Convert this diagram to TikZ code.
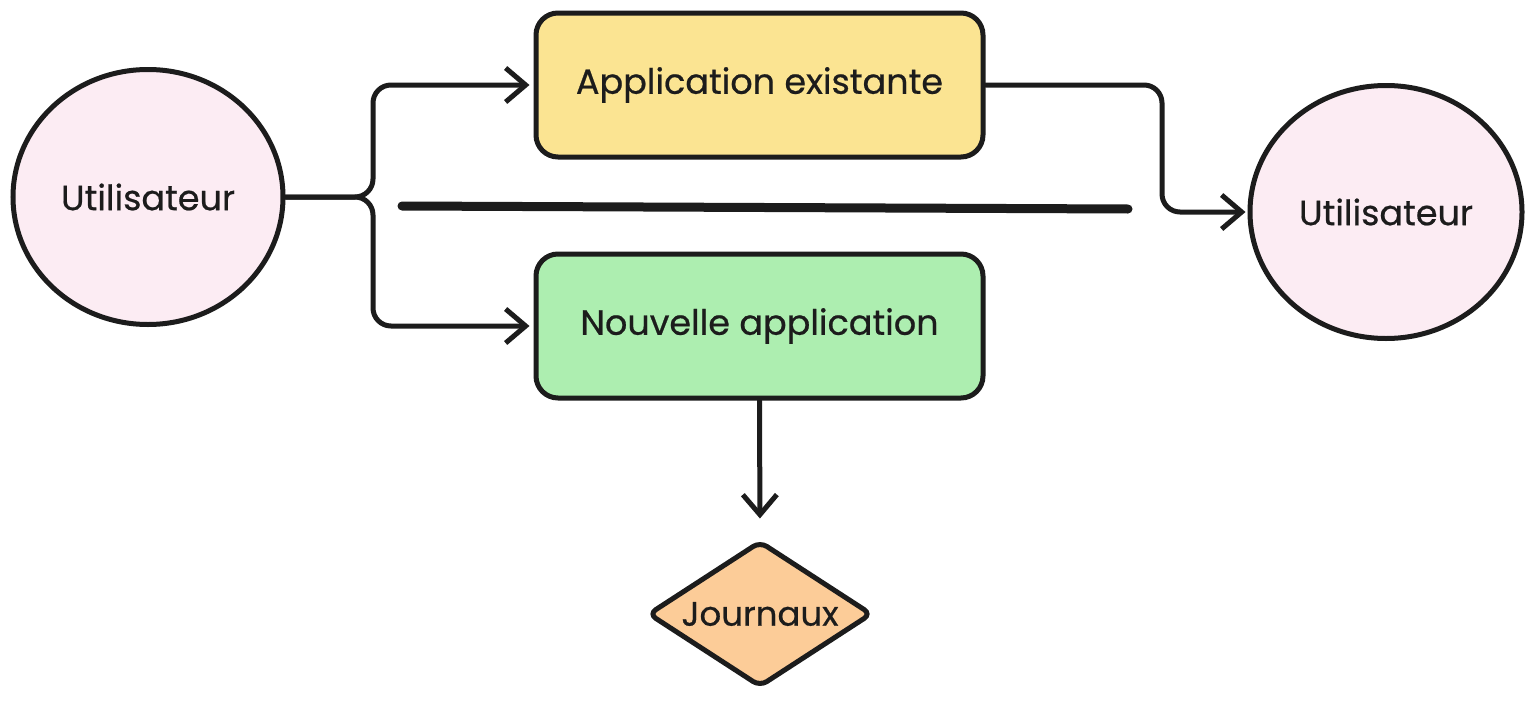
\documentclass[tikz,border=0pt]{standalone}
\usepackage{fontspec}
\setmainfont{Poppins}[FakeBold=0.6]
\usetikzlibrary{shapes.geometric,arrows.meta}
\definecolor{pinkfill}{RGB}{252,236,243}
\definecolor{yellowfill}{RGB}{251,228,146}
\definecolor{greenfill}{RGB}{173,238,176}
\definecolor{orangefill}{RGB}{252,204,152}
\definecolor{ink}{RGB}{28,28,28}
\tikzset{
  base/.style={draw=ink, line width=5pt, font=\fontsize{35}{40}\selectfont, text=ink},
  person/.style={base, ellipse, inner sep=0pt, fill=pinkfill},
  appbox/.style={base, rectangle, rounded corners=22pt, inner sep=0pt, minimum width=447pt, minimum height=144pt},
  logs/.style={base, diamond, inner sep=0pt, minimum width=224pt, minimum height=146pt, fill=orangefill, rounded corners=8pt,
    label={[font=\fontsize{34}{38}\selectfont, text=ink]center:Journaux}},
  conn/.style={draw=ink, line width=5pt, rounded corners=18pt, line cap=round, line join=round},
  arr/.style={conn, -{Straight Barb[length=20pt,width=34pt,line width=5pt]}},
  sep/.style={draw=ink, line width=9pt, line cap=round}
}
\begin{document}
\begin{tikzpicture}[x=1pt,y=-1pt]
\useasboundingbox[fill=white] (0,0) rectangle (1534,704);
\node[person, minimum width=270pt, minimum height=255pt] (u1) at (148,197) {Utilisateur};
\node[person, minimum width=272pt, minimum height=253pt] (u2) at (1386,212) {Utilisateur};
\node[appbox, fill=yellowfill] (app) at (759.5,85) {Application existante};
\node[appbox, fill=greenfill] (new) at (759.5,326) {Nouvelle application};
\node[logs] (jour) at (760,614) {};
\coordinate (lj) at (373,0);
\coordinate (rj) at (1162,0);
\coordinate (s1) at (402,206);
\coordinate (s2) at (1128,209);
\draw[arr, shorten >=4pt] (u1.east) -- (u1.east -| lj) |- (app.west);
\draw[arr, shorten >=4pt] (u1.east) -- (u1.east -| lj) |- (new.west);
\draw[arr, shorten >=2pt] (app.east) -- (app.east -| rj) |- (u2.west);
\draw[arr, shorten >=20pt] (new.south) -- (jour.north);
\draw[sep] (s1) -- (s2);
\end{tikzpicture}
\end{document}
